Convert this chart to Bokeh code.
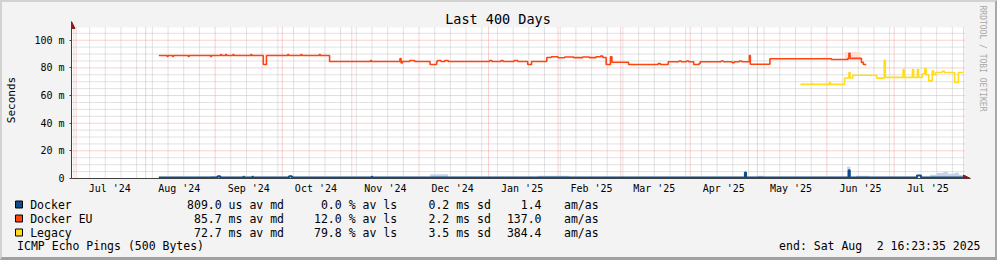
from datetime import datetime, timedelta
from bokeh.plotting import figure
from bokeh.models import Range1d, FixedTicker, Title, Arrow, NormalHead
from bokeh.layouts import column, row
from bokeh.core.properties import value
from bokeh.embed import file_html
from bokeh.resources import INLINE

FONT = "DejaVu Sans Mono"

# ---------------- data (median RTT in ms, step "after") ----------------
docker_time = ["2024-08-06 21:00", "2024-09-02 02:00", "2024-09-03 07:00", "2024-09-13 12:00",
               "2024-09-14 00:00", "2024-09-17 12:00", "2024-09-18 00:00", "2024-10-04 00:00",
               "2024-10-05 07:00", "2024-11-09 19:00", "2024-11-10 07:00", "2025-04-25 10:00",
               "2025-04-25 22:00", "2025-06-10 17:00", "2025-06-11 05:00", "2025-07-11 05:00",
               "2025-07-13 00:00", "2025-08-01 04:00"]
docker_ms = [0.8, 1.6, 0.8, 1.3, 0.8, 1.3, 0.8, 1.6, 0.8, 1.3, 0.8, 4.3, 0.8, 6.0, 0.8, 2.2, 0.8, 0.8]

docker_smoke_time = ["2024-08-06 21:00", "2024-08-30 00:00", "2024-09-04 00:00", "2024-12-06 00:00",
                     "2024-12-14 00:00", "2025-01-23 00:00", "2025-02-06 00:00", "2025-05-01 00:00",
                     "2025-05-04 00:00", "2025-06-10 00:00", "2025-06-11 12:00", "2025-06-14 00:00",
                     "2025-06-20 00:00", "2025-07-17 00:00", "2025-07-20 00:00", "2025-07-23 00:00",
                     "2025-07-25 00:00", "2025-07-28 00:00", "2025-07-30 00:00", "2025-08-01 04:00"]
docker_smoke_ms = [0.0, 1.8, 0.0, 3.0, 0.0, 2.0, 0.0, 2.0, 0.0, 8.5, 0.0, 2.0, 0.0, 2.8, 4.0, 4.8,
                   3.5, 4.2, 2.5, 2.5]

docker_eu_time = ["2024-08-06 21:00", "2024-08-10 14:00", "2024-08-11 00:00", "2024-08-13 00:00",
                  "2024-08-13 10:00", "2024-08-20 00:00", "2024-08-20 10:00", "2024-08-30 00:00",
                  "2024-08-30 10:00", "2024-09-03 12:00", "2024-09-03 22:00", "2024-09-05 17:00",
                  "2024-09-06 03:00", "2024-09-09 00:00", "2024-09-09 10:00", "2024-09-17 00:00",
                  "2024-09-17 10:00", "2024-09-22 12:00", "2024-09-23 22:00", "2024-10-03 10:00",
                  "2024-10-03 20:00", "2024-10-09 07:00", "2024-10-09 17:00", "2024-10-17 12:00",
                  "2024-10-17 22:00", "2024-10-22 02:00", "2024-11-09 08:00", "2024-11-09 18:00",
                  "2024-11-22 12:00", "2024-11-23 00:00", "2024-11-23 14:00", "2024-11-26 22:00",
                  "2024-11-29 02:00", "2024-12-05 22:00", "2024-12-08 21:00", "2024-12-09 07:00",
                  "2024-12-10 19:00", "2024-12-12 12:00", "2024-12-14 00:00", "2025-01-01 12:00",
                  "2025-01-02 12:00", "2025-01-06 14:00", "2025-01-07 12:00", "2025-01-12 10:00",
                  "2025-01-14 00:00", "2025-01-18 12:00", "2025-01-20 05:00", "2025-01-27 00:00",
                  "2025-01-29 00:00", "2025-02-01 00:00", "2025-02-04 00:00", "2025-02-08 00:00",
                  "2025-02-12 00:00", "2025-02-15 00:00", "2025-02-18 00:00", "2025-02-20 00:00",
                  "2025-02-21 00:00", "2025-02-22 12:00", "2025-02-24 10:00", "2025-02-25 02:00",
                  "2025-03-04 12:00", "2025-03-17 17:00", "2025-03-18 17:00", "2025-03-22 05:00",
                  "2025-03-27 00:00", "2025-03-28 00:00", "2025-03-30 07:00", "2025-03-31 07:00",
                  "2025-04-02 14:00", "2025-04-05 00:00", "2025-04-05 12:00", "2025-04-14 19:00",
                  "2025-04-15 19:00", "2025-04-19 17:00", "2025-04-20 17:00", "2025-04-23 00:00",
                  "2025-04-24 00:00", "2025-04-27 10:00", "2025-04-27 20:00", "2025-05-06 14:00",
                  "2025-06-03 00:00", "2025-06-10 10:00", "2025-06-10 20:00", "2025-06-11 08:00",
                  "2025-06-16 10:00", "2025-06-17 07:00", "2025-06-18 14:00"]
docker_eu_ms = [88.9, 88.3, 88.9, 88.3, 88.9, 88.3, 88.9, 88.3,
                88.9, 89.6, 88.9, 89.6, 88.9, 89.6, 88.9, 89.6,
                88.9, 82.4, 88.9, 89.6, 88.9, 89.6, 88.9, 89.6,
                88.9, 84.6, 85.3, 84.6, 86.8, 83.6, 84.6, 85.3,
                84.6, 82.4, 84.6, 85.3, 84.6, 85.3, 84.6, 85.3,
                84.6, 85.3, 84.6, 85.3, 84.6, 82.4, 84.6, 87.5,
                88.0, 87.3, 87.9, 87.4, 87.9, 87.4, 88.1, 88.5,
                87.5, 82.4, 88.1, 84.1, 82.4, 83.1, 82.4, 84.4,
                85.0, 84.4, 85.0, 84.4, 82.4, 83.3, 84.4, 85.0,
                84.4, 83.8, 84.4, 85.0, 84.4, 89.0, 82.6, 86.6,
                86.1, 86.9, 90.6, 86.9, 84.0, 82.4, 82.4]

docker_eu_smoke_time = ["2025-06-09 00:00", "2025-06-16 00:00"]
docker_eu_smoke_lo = [85.5, 85.5]
docker_eu_smoke_hi = [91.5, 91.5]

legacy_time = ["2025-05-20 05:00", "2025-05-25 05:00", "2025-05-25 17:00", "2025-06-02 02:00",
               "2025-06-02 14:00", "2025-06-08 22:00", "2025-06-10 20:00", "2025-06-11 08:00",
               "2025-06-12 14:00", "2025-06-23 05:00", "2025-06-26 14:00", "2025-06-27 02:00",
               "2025-07-05 00:00", "2025-07-05 12:00", "2025-07-09 05:00", "2025-07-09 17:00",
               "2025-07-11 10:00", "2025-07-11 22:00", "2025-07-13 14:00", "2025-07-14 17:00",
               "2025-07-15 07:00", "2025-07-16 10:00", "2025-07-18 00:00", "2025-07-18 14:00",
               "2025-07-19 12:00", "2025-07-22 12:00", "2025-07-23 12:00", "2025-07-28 00:00",
               "2025-07-29 17:00", "2025-07-31 22:00"]
legacy_ms = [68.1, 68.7, 68.1, 69.3, 68.1, 72.7, 76.6, 72.7,
             74.7, 72.6, 85.5, 73.1, 78.8, 73.1, 78.8, 73.1,
             78.8, 73.1, 75.8, 79.5, 75.0, 70.6, 77.8, 75.0,
             76.7, 77.6, 76.7, 69.4, 76.7, 76.7]

y_ticks = [0, 20, 40, 60, 80, 100]
y_tick_labels = ["0", "20 m", "40 m", "60 m", "80 m", "100 m"]
month_labels = ["Jul '24", "Aug '24", "Sep '24", "Oct '24", "Nov '24", "Dec '24", "Jan '25",
                "Feb '25", "Mar '25", "Apr '25", "May '25", "Jun '25", "Jul '25"]

legend_names = ["Docker", "Docker EU", "Legacy"]
legend_avg = ["809.0 us av md", "85.7 ms av md", "72.7 ms av md"]
legend_loss = ["0.0 % av ls", "12.0 % av ls", "79.8 % av ls"]
legend_sd = ["0.2 ms sd", "2.2 ms sd", "3.5 ms sd"]
legend_amas = ["1.4", "137.0", "384.4"]
legend_unit = ["am/as", "am/as", "am/as"]
footer_left = "ICMP Echo Pings (500 Bytes)"
footer_right = ["end: Sat Aug", "2 16:23:35 2025"]

BLUE, ORANGE, YELLOW = "#0f4c8a", "#ff4411", "#ffdd1e"
legend_colors = [BLUE, ORANGE, YELLOW]

# ---------------- helpers ----------------
def to_dt(s):
    return datetime.fromisoformat(s)

EPOCH = datetime(1970, 1, 1)

def to_ms(d):
    return (d - EPOCH).total_seconds() * 1000.0

PX_PER_DAY = 2.2584
PX_PER_MS = 151 / 109.2
x_start = datetime(2024, 7, 1) - timedelta(days=4.7 / PX_PER_DAY)
x_plot_end = x_start + timedelta(days=900 / PX_PER_DAY)      # white plot area edge
x_end = x_start + timedelta(days=906 / PX_PER_DAY)           # room for the axis arrow
Y_PLOT = 109.2
Y_TOP = 157 / PX_PER_MS                                      # room for the axis arrow

month_starts = []
yy, mm = 2024, 7
while True:
    d = datetime(yy, mm, 1)
    if d > x_plot_end:
        break
    month_starts.append(d)
    mm += 1
    if mm > 12:
        mm, yy = 1, yy + 1
label_pos = [to_ms(d + timedelta(days=15)) for d in month_starts[:len(month_labels)]]
week_starts = []
w = datetime(2024, 6, 30)
while w < x_plot_end:
    if w.day != 1:
        week_starts.append(w)
    w += timedelta(days=7)

BG = "#f3f3f3"
W_IN = 993
MAIN_H, LEG_H = 194, 61

# ---------------- chart ----------------
p = figure(width=W_IN, height=MAIN_H, x_axis_type="datetime",
           x_range=Range1d(x_start, x_end), y_range=Range1d(0, Y_TOP),
           toolbar_location=None, output_backend="svg",
           min_border_left=65, min_border_right=22, min_border_top=19, min_border_bottom=18,
           background_fill_color=BG, border_fill_color=BG, outline_line_color=None)
p.grid.visible = False

# plot area and grid lines
p.quad(left=[x_start], right=[x_plot_end], bottom=[0], top=[Y_PLOT],
       fill_color="white", line_color=None)
minor_y = [v for v in range(5, 110, 5) if v % 20 != 0]
p.segment(x0=week_starts, x1=week_starts, y0=[0] * len(week_starts),
          y1=[Y_PLOT] * len(week_starts), line_color="#c4c4c4", line_dash="1 1", line_width=1)
p.segment(x0=[x_start] * len(minor_y), x1=[x_plot_end] * len(minor_y), y0=minor_y, y1=minor_y,
          line_color="#c4c4c4", line_dash="1 1", line_width=1)
p.segment(x0=month_starts, x1=month_starts, y0=[0] * len(month_starts),
          y1=[Y_PLOT] * len(month_starts), line_color="#f08c8c", line_alpha=0.8,
          line_dash="1 1", line_width=1)
p.segment(x0=[x_start] * 5, x1=[x_plot_end] * 5, y0=y_ticks[1:], y1=y_ticks[1:],
          line_color="#f08c8c", line_alpha=0.8, line_dash="1 1", line_width=1)

# axes
p.xaxis.ticker = FixedTicker(ticks=label_pos)
p.xaxis.major_label_overrides = {t: lab for t, lab in zip(label_pos, month_labels)}
p.xaxis.major_tick_line_color = None
p.xaxis.minor_tick_line_color = None
p.xaxis.major_tick_in = 0
p.xaxis.major_tick_out = 0
p.xaxis.minor_tick_in = 0
p.xaxis.minor_tick_out = 0
p.xaxis.major_label_standoff = 4
p.yaxis.ticker = FixedTicker(ticks=y_ticks)
p.yaxis.major_label_overrides = {float(t): lab for t, lab in zip(y_ticks, y_tick_labels)}
p.yaxis.minor_tick_line_color = None
p.yaxis.minor_tick_in = 0
p.yaxis.minor_tick_out = 0
p.yaxis.major_tick_in = 0
p.yaxis.major_tick_out = 2
p.yaxis.major_tick_line_color = "#404040"
p.yaxis.major_label_standoff = 5
p.yaxis.axis_label = "Seconds"
p.yaxis.axis_label_standoff = 13
p.yaxis.axis_label_text_font = FONT
p.yaxis.axis_label_text_font_size = "11px"
p.yaxis.axis_label_text_font_style = "normal"
p.yaxis.axis_label_text_color = "#000000"
for ax in (p.xaxis, p.yaxis):
    ax.axis_line_color = "#404040"
    ax.major_label_text_font = FONT
    ax.major_label_text_font_size = "10px"
    ax.major_label_text_color = "#000000"

# title and watermark
p.title = Title(text="Last 400 Days", align="left", offset=373.7, standoff=-10,
                text_font=FONT, text_font_size="13.5px", text_font_style="normal",
                text_color="#000000")
p.add_layout(Title(text="RRDTOOL / TOBI OETIKER", align="left", offset=-16, standoff=14,
                   text_font=FONT, text_font_size="8px", text_font_style="normal",
                   text_color="#a8a8a8"), "right")

# data
p.varea_step(x=[to_dt(s) for s in docker_smoke_time], y1=[0] * len(docker_smoke_ms),
             y2=docker_smoke_ms, step_mode="after", fill_color="#c4d5e9")
p.varea_step(x=[to_dt(s) for s in docker_eu_smoke_time], y1=docker_eu_smoke_lo,
             y2=docker_eu_smoke_hi, step_mode="after", fill_color="#ffe0d6")
p.step(x=[to_dt(s) for s in docker_eu_time], y=docker_eu_ms, mode="after",
       line_color=ORANGE, line_width=1.6)
p.step(x=[to_dt(s) for s in legacy_time], y=legacy_ms, mode="after",
       line_color=YELLOW, line_width=1.6)
p.step(x=[to_dt(s) for s in docker_time], y=docker_ms, mode="after",
       line_color=BLUE, line_width=2)

# axis arrows
ARROW = "#8b1a1a"
p.add_layout(Arrow(end=NormalHead(size=7, fill_color=ARROW, line_color=ARROW),
                   x_start=x_plot_end, y_start=0, x_end=x_end, y_end=0, line_alpha=0))
p.add_layout(Arrow(end=NormalHead(size=7, fill_color=ARROW, line_color=ARROW),
                   x_start=x_start, y_start=Y_PLOT - 3, x_end=x_start, y_end=Y_TOP,
                   line_alpha=0))

# ---------------- legend strip (coordinates = pixels inside the strip) ----------------
lf = figure(width=W_IN, height=LEG_H, x_range=Range1d(0, W_IN), y_range=Range1d(LEG_H, 0),
            toolbar_location=None, output_backend="svg", min_border=0,
            x_axis_location=None, y_axis_location=None,
            background_fill_color=BG, border_fill_color=BG, outline_line_color=None)
lf.grid.visible = False
rows_y = [8, 22, 36]
lf.rect(x=[16.5] * 3, y=rows_y, width=7, height=7, fill_color=legend_colors,
        line_color="#000000", line_width=1)

def txt(xs, ys, texts, align):
    lf.text(x=xs, y=ys, text=texts, text_font=value(FONT), text_font_size="11.5px",
            text_align=align, text_baseline="middle", text_color="#000000")

txt([27.7] * 3, rows_y, legend_names, "left")
txt([281.5] * 3, rows_y, legend_avg, "right")
txt([394.6] * 3, rows_y, legend_loss, "right")
txt([488.3] * 3, rows_y, legend_sd, "right")
txt([539.0] * 3, rows_y, legend_amas, "right")
txt([561.5] * 3, rows_y, legend_unit, "left")
txt([14.6], [49.5], [footer_left], "left")
txt([859.7], [49.5], [footer_right[0]], "right")
txt([978.0], [49.5], [footer_right[1]], "right")

layout = column(p, row(lf, spacing=0), spacing=0,
                styles={"border-style": "solid", "border-width": "2px 2px 3px 2px",
                        "border-color": "#d2d2d2 #a8a8a8 #a0a0a0 #d2d2d2",
                        "background-color": BG})

open("out.html", "w").write(file_html(layout, INLINE))
